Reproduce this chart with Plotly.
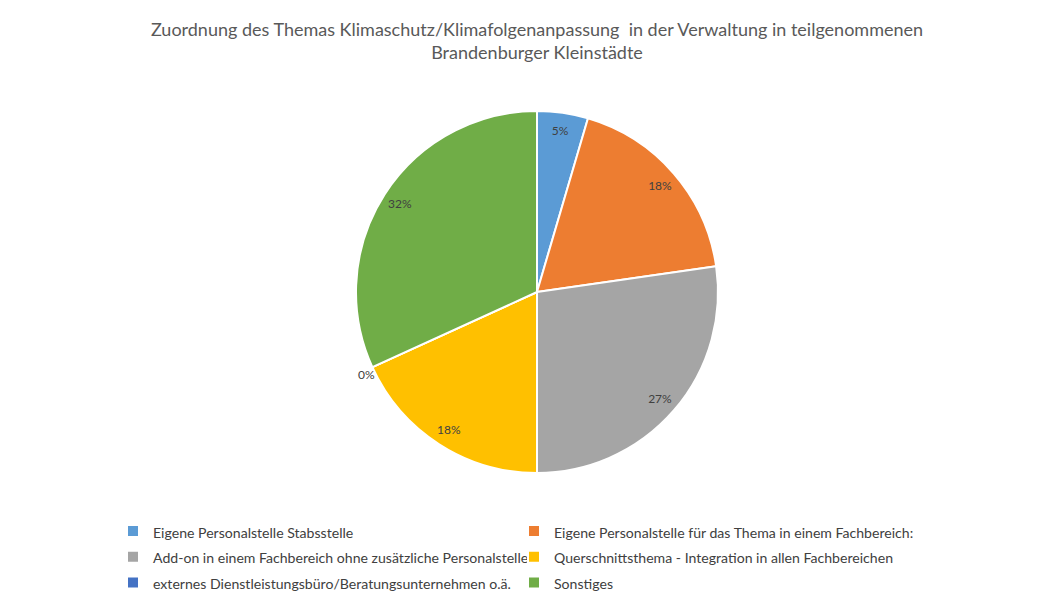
import math
import plotly.graph_objects as go

labels = [
    "Eigene Personalstelle Stabsstelle",
    "Eigene Personalstelle für das Thema in einem Fachbereich:",
    "Add-on in einem Fachbereich ohne zusätzliche Personalstelle",
    "Querschnittsthema - Integration in allen Fachbereichen",
    "externes Dienstleistungsbüro/Beratungsunternehmen o.ä.",
    "Sonstiges",
]
values = [1, 4, 6, 4, 0, 7]
colors = ["#5B9BD5", "#ED7D31", "#A5A5A5", "#FFC000", "#4472C4", "#70AD47"]
title_text = ("Zuordnung des Themas Klimaschutz/Klimafolgenanpassung  in der Verwaltung in teilgenommenen"
              "<br>Brandenburger Kleinstädte")

W, H = 1056, 603
OFF = 8  # page body margin
FONT = "Lato"
TXT = "#404040"

# pie geometry in page pixels -> figure paper coords
cx, cy, R = 537 - OFF, 292 - OFF, 181
dom_x = [(cx - R) / W, (cx + R) / W]
dom_y = [1 - (cy + R) / H, 1 - (cy - R) / H]

legend_labels = ["<span style='font-size:14.1px'>%s</span>" % l for l in labels]

fig = go.Figure()
fig.add_trace(go.Pie(
    labels=legend_labels, values=values, sort=False, direction="clockwise", rotation=0,
    marker=dict(colors=colors, line=dict(color="white", width=2)),
    textinfo="none", domain=dict(x=dom_x, y=dom_y),
    customdata=labels, hovertemplate="%{customdata}: %{percent}<extra></extra>",
))
# transparent ring used only to place the percentages near the outer edge
fig.add_trace(go.Pie(
    labels=legend_labels, values=values, sort=False, direction="clockwise", rotation=0,
    hole=0.8, marker=dict(colors=["rgba(0,0,0,0)"] * len(values)),
    texttemplate="%{percent:.0%}", textposition="inside", insidetextorientation="horizontal",
    textfont=dict(family=FONT, size=12, color=TXT),
    domain=dict(x=dom_x, y=dom_y), showlegend=False, hoverinfo="skip",
))

# labels for zero-value slices, just outside the slice boundary
total = sum(values)
cum = 0
for v in values:
    if v == 0:
        ang = 2 * math.pi * cum / total
        px = cx + 1.1 * R * math.sin(ang)
        py = cy - 1.1 * R * math.cos(ang)
        fig.add_annotation(x=px / W, y=1 - py / H, xref="paper", yref="paper",
                           text="%d%%" % round(100 * v / total), showarrow=False,
                           font=dict(family=FONT, size=12, color=TXT))
    cum += v

fig.update_layout(
    width=W, height=H,
    margin=dict(l=0, r=0, t=0, b=0),
    paper_bgcolor="white", plot_bgcolor="white",
    title=dict(text=title_text, x=(537 - OFF) / W, xanchor="center", y=1 - 28 / H, yanchor="top",
               yref="container", font=dict(family=FONT, size=18, color="#595959")),
    legend=dict(orientation="h", x=(113 - OFF) / W, y=1 - (513 - OFF) / H, xanchor="left", yanchor="top",
                entrywidth=356, entrywidthmode="pixels", itemwidth=30,
                font=dict(family=FONT, size=17.5, color=TXT), traceorder="normal"),
)

fig.write_html("out.html")
